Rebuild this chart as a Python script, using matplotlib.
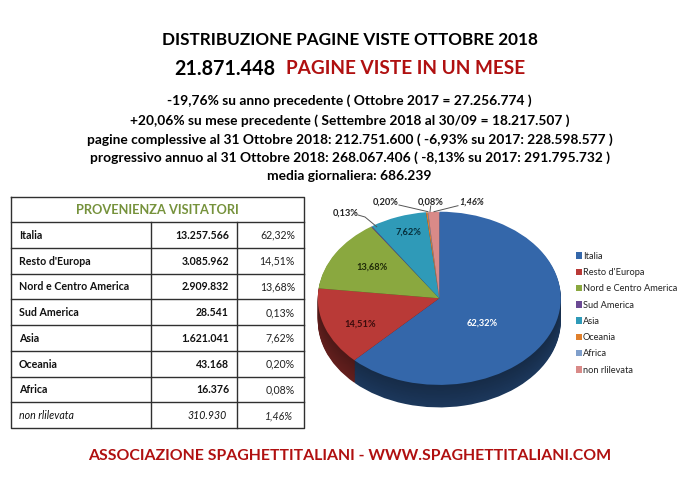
import matplotlib

matplotlib.use("Agg")
import matplotlib.pyplot as plt
from matplotlib.colors import to_rgb
from matplotlib.patches import Patch

plt.rcParams["font.family"] = ["Lato", "DejaVu Sans"]

regions = [
    "Italia",
    "Resto d'Europa",
    "Nord e Centro America",
    "Sud America",
    "Asia",
    "Oceania",
    "Africa",
    "non rlilevata",
]
visitors = [
    "13.257.566",
    "3.085.962",
    "2.909.832",
    "28.541",
    "1.621.041",
    "43.168",
    "16.376",
    "310.930",
]
shares = [62.32, 14.51, 13.68, 0.13, 7.62, 0.20, 0.08, 1.46]
share_labels = ["62,32%", "14,51%", "13,68%", "0,13%", "7,62%", "0,20%", "0,08%", "1,46%"]
colors = ["#3467aa", "#b93a37", "#8aa83f", "#6b4a94", "#2f9ab8", "#e0802c", "#7f9fcb", "#d98a88"]

title = "DISTRIBUZIONE PAGINE VISTE OTTOBRE 2018"
total = "21.871.448"
total_text = "PAGINE VISTE IN UN MESE"
summary = [
    "-19,76% su anno precedente ( Ottobre 2017 = 27.256.774 )",
    "+20,06% su mese precedente ( Settembre 2018 al 30/09 = 18.217.507 )",
    "pagine complessive al 31 Ottobre 2018: 212.751.600 ( -6,93% su 2017: 228.598.577 )",
    "progressivo annuo al 31 Ottobre 2018: 268.067.406 ( -8,13% su 2017: 291.795.732 )",
    "media giornaliera: 686.239",
]
table_title = "PROVENIENZA VISITATORI"
footer = "ASSOCIAZIONE SPAGHETTITALIANI - WWW.SPAGHETTITALIANI.COM"

WIDTH, HEIGHT = 700, 495
RED = "#b01010"


def darker(color, factor):
    return tuple(c * factor for c in to_rgb(color))


fig = plt.figure(figsize=(WIDTH / 100, HEIGHT / 100), dpi=100, facecolor="white")

# pie axes: data range -1..1 is the ellipse of the top face
cx, cy, rx, ry = 439.3, 298.3, 121.5, 86.6
depth = 0.26
pie_ax = fig.add_axes([
    (cx - rx) / WIDTH,
    (HEIGHT - cy - ry * (1 + depth)) / HEIGHT,
    2 * rx / WIDTH,
    ry * (2 + depth) / HEIGHT,
])
steps = 26
for k in range(steps, 0, -1):
    pie_ax.pie(
        shares,
        colors=[darker(c, 0.42 + 0.12 * k / steps) for c in colors],
        startangle=90,
        counterclock=False,
        center=(0, -depth * k / steps),
    )
wedges, _ = pie_ax.pie(shares, colors=colors, startangle=90, counterclock=False)
pie_ax.set_aspect("auto")
pie_ax.set_xlim(-1, 1)
pie_ax.set_ylim(-1 - depth, 1)

# overlay in pixel coordinates for text and table
ax = fig.add_axes([0, 0, 1, 1])
ax.set_xlim(0, WIDTH)
ax.set_ylim(HEIGHT, 0)
ax.axis("off")
ax.patch.set_alpha(0)

ax.text(349.5, 40, title, ha="center", va="center", fontsize=12.3, fontweight="bold", color="black")
ax.text(275, 69, total, ha="right", va="center", fontsize=14.2, fontweight="bold", color="black")
ax.text(286, 69, total_text, ha="left", va="center", fontsize=13.7, fontweight="bold", color=RED)
for y, line in zip([101, 120.5, 139.5, 157.5, 176.5], summary):
    ax.text(349.5, y, line, ha="center", va="center", fontsize=9.9, fontweight="bold", color="black")
ax.text(350, 455.5, footer, ha="center", va="center", fontsize=11.4, fontweight="bold", color=RED)

# table
left, col1, col2, right = 11, 151, 237, 304
top, head, bottom = 197, 222, 428
row_h = (bottom - head) / len(regions)
line_color = "#303030"
ax.plot([left, right, right, left, left], [top, top, bottom, bottom, top], color=line_color, lw=1)
ax.plot([left, right], [head, head], color=line_color, lw=1)
ax.plot([col1, col1], [head, bottom], color=line_color, lw=1)
ax.plot([col2, col2], [head, bottom], color=line_color, lw=1)
ax.text((left + right) / 2, 209.5, table_title, ha="center", va="center",
        fontsize=9.2, fontweight="bold", color="#76923c")
for i, (region, count, share) in enumerate(zip(regions, visitors, share_labels)):
    y = head + row_h * i
    if i > 0:
        ax.plot([left, right], [y, y], color=line_color, lw=1)
    italic = region == "non rlilevata"
    weight = "normal" if italic else "bold"
    style = "italic" if italic else "normal"
    mid = y + row_h / 2 + 0.5
    ax.text(19, mid, region, ha="left", va="center", fontsize=7.7, fontweight=weight, fontstyle=style, color="#111111")
    ax.text(227 if italic else 229, mid, count, ha="right", va="center", fontsize=7.6, fontweight=weight,
            fontstyle=style, color="#111111")
    ax.text(293 if italic else 295, mid, share, ha="right", va="center", fontsize=7.6, fontstyle=style, color="#222222")

# pie labels
inside = {
    0: (481.7, 323, "white"),
    1: (360, 324, "#3a0c0c"),
    2: (372, 267, "#1f2a08"),
    4: (409, 232, "#06303c"),
}
for idx, (x, y, color) in inside.items():
    ax.text(x, y, share_labels[idx], ha="center", va="center", fontsize=6.7, fontweight="bold", color=color)
outside = {
    3: (345.7, 213, "normal"),
    5: (386, 201.7, "normal"),
    6: (430.7, 201.7, "normal"),
    7: (472, 201.7, "italic"),
}
for idx, (x, y, style) in outside.items():
    ax.text(x, y, share_labels[idx], ha="center", va="center", fontsize=6.7, fontweight="bold",
            fontstyle=style, color="#222222")
leader = "#555555"
ax.plot([358, 365, 376.7], [215, 217, 226.7], color=leader, lw=0.7)
ax.plot([399, 428], [205, 211.7], color=leader, lw=0.7)
ax.plot([430.7, 430], [206, 211.7], color=leader, lw=0.7)
ax.plot([458, 434], [205.7, 211.7], color=leader, lw=0.7)

handles = [Patch(facecolor=c, edgecolor="none") for c in colors]
ax.legend(
    handles,
    regions,
    loc="upper left",
    bbox_to_anchor=(573 / WIDTH, 1 - 249 / HEIGHT),
    bbox_transform=fig.transFigure,
    frameon=False,
    fontsize=6.7,
    handlelength=0.7,
    handleheight=0.7,
    handletextpad=0.05,
    labelspacing=0.78,
    borderpad=0.3,
    borderaxespad=0,
    labelcolor="#222222",
)

fig.savefig("out.png", dpi=100)
plt.close(fig)
